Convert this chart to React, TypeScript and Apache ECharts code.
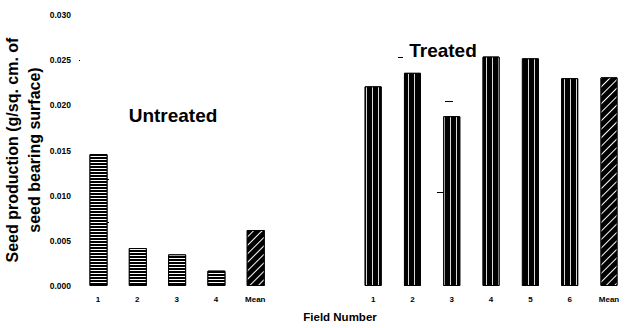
import React, { useEffect, useRef } from "react";
import * as echarts from "echarts";

const fieldLabels = ["1", "2", "3", "4", "Mean", "", "", "1", "2", "3", "4", "5", "6", "Mean"];
const untreatedValues = [0.0146, 0.0042, 0.0035, 0.0017, 0.0062];
const treatedValues = [0.0221, 0.0236, 0.0188, 0.0254, 0.0252, 0.023, 0.0231];
const treatedStart = 7;
const yMin = 0;
const yMax = 0.03;
const yInterval = 0.005;
const yTitleLines = ["Seed production (g/sq. cm. of", "seed bearing surface)"];

const FONT = "'Liberation Sans', Arial, sans-serif";

const horizDecal = {
  symbol: "rect",
  symbolSize: 1,
  color: "#ffffff",
  dashArrayX: [1, 0],
  dashArrayY: [1, 2],
  rotation: 0,
};
const vertDecal = {
  symbol: "rect",
  symbolSize: 1,
  color: "#d8d8d8",
  dashArrayX: [1, 5],
  dashArrayY: [1, 0],
  rotation: 0,
};
const diagDecal = {
  symbol: "rect",
  symbolSize: 1,
  color: "#ffffff",
  dashArrayX: [1, 0],
  dashArrayY: [1, 5],
  rotation: -Math.PI / 4,
};

function speck(x1: number, y1: number, x2: number, y2: number) {
  return {
    type: "line",
    shape: { x1, y1, x2, y2 },
    style: { stroke: "#000", lineWidth: 1 },
    silent: true,
  };
}

function label(text: string, x: number, y: number, size: number, rotation = 0) {
  return {
    type: "text",
    x,
    y,
    rotation,
    style: {
      text,
      fontSize: size,
      fontWeight: "bold",
      fontFamily: FONT,
      fill: "#000",
      align: "center",
      verticalAlign: "middle",
    },
  };
}

export default function App() {
  const ref = useRef<HTMLDivElement>(null);
  useEffect(() => {
    if (!ref.current) return;
    const chart = echarts.init(ref.current, null, { renderer: "svg" });

    const untreatedData = fieldLabels.map((lab, i) => {
      if (i >= untreatedValues.length) return null;
      return {
        value: untreatedValues[i],
        itemStyle: { decal: lab === "Mean" ? diagDecal : horizDecal },
      };
    });
    const treatedData = fieldLabels.map((lab, i) => {
      const j = i - treatedStart;
      if (j < 0 || j >= treatedValues.length) return null;
      return {
        value: treatedValues[j],
        itemStyle: { decal: lab === "Mean" ? diagDecal : vertDecal },
      };
    });

    chart.setOption({
      animation: false,
      backgroundColor: "#ffffff",
      grid: {
        left: 98,
        right: 17,
        top: 15,
        bottom: 42,
        containLabel: false,
        outerBoundsMode: "none",
      },
      xAxis: {
        type: "category",
        data: fieldLabels,
        boundaryGap: false,
        axisLine: { show: false },
        axisTick: { show: false },
        axisLabel: {
          interval: 0,
          margin: 9,
          fontSize: 8,
          fontWeight: "bold",
          color: "#000",
          fontFamily: FONT,
        },
        splitLine: { show: false },
      },
      yAxis: {
        type: "value",
        min: yMin,
        max: yMax,
        interval: yInterval,
        axisLine: { show: false },
        axisTick: { show: false },
        splitLine: { show: false },
        axisLabel: {
          margin: 27,
          fontSize: 8.5,
          fontWeight: "bold",
          color: "#000",
          fontFamily: FONT,
          formatter: (v: number) => v.toFixed(3),
        },
      },
      series: [
        {
          type: "bar",
          name: "Untreated",
          data: untreatedData,
          barWidth: 18,
          barGap: "-100%",
          clip: false,
          itemStyle: { color: "#000", borderColor: "#000", borderWidth: 1 },
        },
        {
          type: "bar",
          name: "Treated",
          data: treatedData,
          barWidth: 17,
          barGap: "-100%",
          clip: false,
          itemStyle: { color: "#000", borderColor: "#000", borderWidth: 1 },
        },
      ],
      graphic: [
        label(yTitleLines[0], 12, 150, 16, Math.PI / 2),
        label(yTitleLines[1], 34, 150, 16, Math.PI / 2),
        label("Untreated", 173, 115, 19),
        label("Treated", 443, 50, 19),
        label("Field Number", 340, 317, 11.5),
        speck(79, 60.5, 80, 60.5),
        speck(398, 57.5, 403, 57.5),
        speck(445, 101.5, 453, 101.5),
        speck(437, 192.5, 443, 192.5),
        speck(107, 179.5, 109, 179.5),
        speck(107, 222.5, 109, 222.5),
      ],
    });
    return () => chart.dispose();
  }, []);
  return (
    <div
      ref={ref}
      style={{ position: "absolute", left: 0, top: 0, width: 626, height: 328 }}
    />
  );
}
